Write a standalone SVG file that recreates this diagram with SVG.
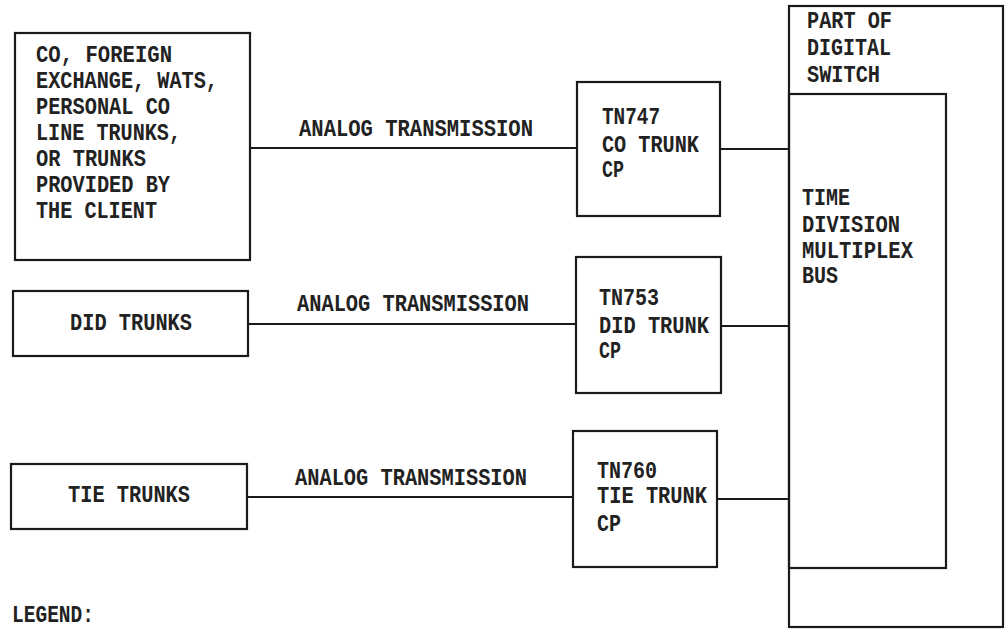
<svg xmlns="http://www.w3.org/2000/svg" width="1005" height="631" viewBox="0 0 1005 631">
<style>
.box{fill:none;stroke:#1a1a1a;stroke-width:2.2}
.ln{fill:none;stroke:#1a1a1a;stroke-width:2}
text{font-family:"Liberation Mono","DejaVu Sans Mono",monospace;font-size:23px;font-weight:bold;fill:#222}
</style>
<rect width="1005" height="631" fill="#fff"/>
<g id="connectors">
<line class="ln" x1="250" y1="148" x2="577" y2="148"/>
<line class="ln" x1="720" y1="149" x2="789" y2="149"/>
<line class="ln" x1="248" y1="324" x2="576" y2="324"/>
<line class="ln" x1="721" y1="326" x2="789" y2="326"/>
<line class="ln" x1="247" y1="497" x2="573" y2="497"/>
<line class="ln" x1="717" y1="499" x2="789" y2="499"/>
<text x="299" y="136" textLength="234" lengthAdjust="spacingAndGlyphs">ANALOG TRANSMISSION</text>
<text x="297" y="311" textLength="232" lengthAdjust="spacingAndGlyphs">ANALOG TRANSMISSION</text>
<text x="295" y="485" textLength="232" lengthAdjust="spacingAndGlyphs">ANALOG TRANSMISSION</text>
</g>
<g id="co-trunks">
<rect class="box" x="15" y="33" width="235" height="227"/>
<text x="36" y="62" textLength="136" lengthAdjust="spacingAndGlyphs">CO, FOREIGN</text>
<text x="36" y="88" textLength="182" lengthAdjust="spacingAndGlyphs">EXCHANGE, WATS,</text>
<text x="36" y="114" textLength="134" lengthAdjust="spacingAndGlyphs">PERSONAL CO</text>
<text x="36" y="140" textLength="145" lengthAdjust="spacingAndGlyphs">LINE TRUNKS,</text>
<text x="36" y="166" textLength="110" lengthAdjust="spacingAndGlyphs">OR TRUNKS</text>
<text x="36" y="192" textLength="134" lengthAdjust="spacingAndGlyphs">PROVIDED BY</text>
<text x="36" y="218" textLength="121" lengthAdjust="spacingAndGlyphs">THE CLIENT</text>
</g>
<g id="did-trunks">
<rect class="box" x="13" y="291" width="235" height="65"/>
<text x="70" y="330" textLength="122" lengthAdjust="spacingAndGlyphs">DID TRUNKS</text>
</g>
<g id="tie-trunks">
<rect class="box" x="11" y="464" width="236" height="65"/>
<text x="68" y="502" textLength="122" lengthAdjust="spacingAndGlyphs">TIE TRUNKS</text>
</g>
<g id="tn747">
<rect class="box" x="577" y="82" width="143" height="134"/>
<text x="602" y="124" textLength="58" lengthAdjust="spacingAndGlyphs">TN747</text>
<text x="602" y="152" textLength="97" lengthAdjust="spacingAndGlyphs">CO TRUNK</text>
<text x="602" y="177" textLength="22" lengthAdjust="spacingAndGlyphs">CP</text>
</g>
<g id="tn753">
<rect class="box" x="576" y="257" width="145" height="136"/>
<text x="599" y="305" textLength="60" lengthAdjust="spacingAndGlyphs">TN753</text>
<text x="599" y="333" textLength="110" lengthAdjust="spacingAndGlyphs">DID TRUNK</text>
<text x="599" y="358" textLength="22" lengthAdjust="spacingAndGlyphs">CP</text>
</g>
<g id="tn760">
<rect class="box" x="573" y="431" width="144" height="136"/>
<text x="597" y="478" textLength="60" lengthAdjust="spacingAndGlyphs">TN760</text>
<text x="597" y="503" textLength="110" lengthAdjust="spacingAndGlyphs">TIE TRUNK</text>
<text x="597" y="531" textLength="24" lengthAdjust="spacingAndGlyphs">CP</text>
</g>
<g id="digital-switch">
<rect class="box" x="789" y="6" width="214" height="621"/>
<text x="807" y="28" textLength="85" lengthAdjust="spacingAndGlyphs">PART OF</text>
<text x="807" y="55" textLength="84" lengthAdjust="spacingAndGlyphs">DIGITAL</text>
<text x="807" y="82" textLength="73" lengthAdjust="spacingAndGlyphs">SWITCH</text>
</g>
<g id="tdm-bus">
<rect class="box" x="789" y="94" width="157" height="474"/>
<text x="802" y="205" textLength="48" lengthAdjust="spacingAndGlyphs">TIME</text>
<text x="802" y="232" textLength="98" lengthAdjust="spacingAndGlyphs">DIVISION</text>
<text x="802" y="258" textLength="111" lengthAdjust="spacingAndGlyphs">MULTIPLEX</text>
<text x="802" y="283" textLength="36" lengthAdjust="spacingAndGlyphs">BUS</text>
</g>
<g id="legend">
<text x="12" y="622" textLength="82" lengthAdjust="spacingAndGlyphs">LEGEND:</text>
</g>
</svg>
